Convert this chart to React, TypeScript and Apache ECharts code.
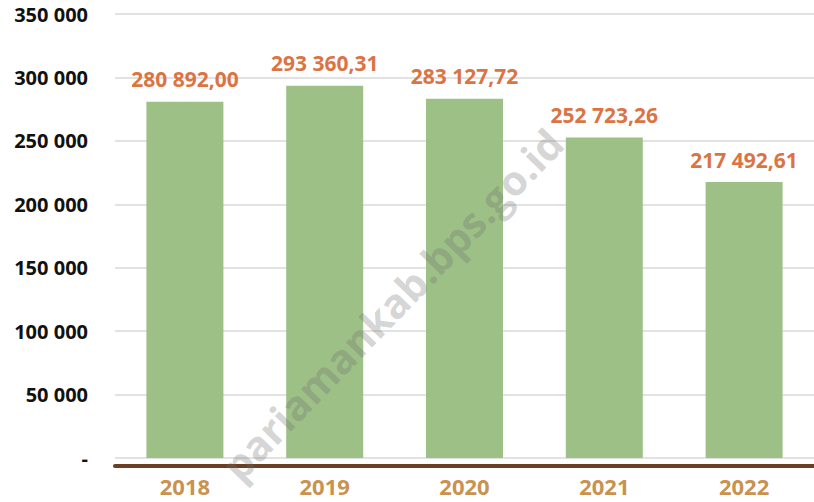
import React, { useEffect, useRef } from "react";
import * as echarts from "echarts";

const categories = ["2018", "2019", "2020", "2021", "2022"];
const values = [280892.0, 293360.31, 283127.72, 252723.26, 217492.61];
const valueLabels = ["280 892,00", "293 360,31", "283 127,72", "252 723,26", "217 492,61"];
const yTickLabels: Record<number, string> = {
  0: "-",
  50000: "50 000",
  100000: "100 000",
  150000: "150 000",
  200000: "200 000",
  250000: "250 000",
  300000: "300 000",
  350000: "350 000",
};

const FONT = "'Open Sans', 'Noto Sans', sans-serif";

export default function App() {
  const ref = useRef<HTMLDivElement>(null);
  useEffect(() => {
    if (!ref.current) return;
    const chart = echarts.init(ref.current, undefined, { renderer: "svg" });
    chart.setOption({
      animation: false,
      backgroundColor: "#ffffff",
      grid: { left: 115, right: -1, top: 14, bottom: 44, containLabel: false },
      xAxis: {
        type: "category",
        data: categories,
        offset: 8,
        axisLine: { show: true, onZero: false, lineStyle: { color: "#6A3F22", width: 4 } },
        axisTick: { show: false },
        axisLabel: {
          color: "#C8924F",
          fontFamily: FONT,
          fontWeight: "bold",
          fontSize: 22,
          margin: 9,
        },
      },
      yAxis: {
        type: "value",
        min: 0,
        max: 350000,
        interval: 50000,
        axisLine: { show: false },
        axisTick: { show: false },
        splitLine: { show: true, lineStyle: { color: "#D9D9D9", width: 1.5 } },
        axisLabel: {
          color: "#111111",
          fontFamily: FONT,
          fontWeight: "bold",
          fontSize: 20,
          margin: 27,
          formatter: (v: number) => yTickLabels[v] ?? String(v),
        },
      },
      series: [
        {
          type: "bar",
          data: values,
          barWidth: 77,
          itemStyle: { color: "#9DC087" },
          label: {
            show: true,
            position: "top",
            distance: 12,
            color: "#DB7444",
            fontFamily: FONT,
            fontWeight: "bold",
            fontSize: 21,
            formatter: (p: any) => valueLabels[p.dataIndex],
          },
        },
      ],
      graphic: [
        {
          type: "text",
          x: 392,
          y: 304,
          rotation: (46 * Math.PI) / 180,
          style: {
            text: "pariamankab.bps.go.id",
            fill: "rgba(110,110,110,0.3)",
            font: `bold 41px ${FONT}`,
            align: "center",
            verticalAlign: "middle",
          },
          z: 100,
        },
      ],
    });
    return () => chart.dispose();
  }, []);
  return (
    <div
      ref={ref}
      style={{ position: "fixed", left: 0, top: 0, width: 814, height: 502 }}
    />
  );
}
